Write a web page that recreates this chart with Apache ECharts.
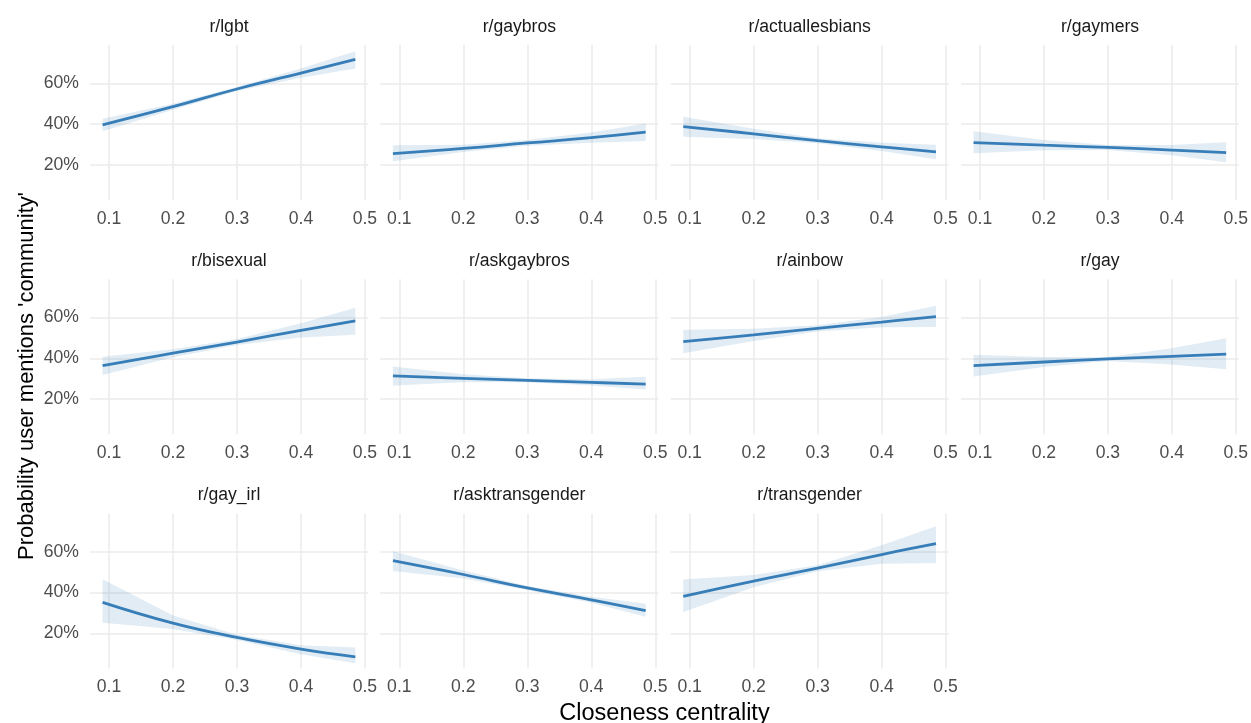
<!DOCTYPE html>
<html>
<head>
<meta charset="utf-8">
<script src="https://cdn.jsdelivr.net/npm/echarts@6/dist/echarts.min.js"></script>
<style>
html,body{margin:0;padding:0;background:#ffffff;}
#chart{width:1251px;height:723px;}
</style>
</head>
<body>
<div id="chart"></div>
<script>
// ---- data (percent) ----
const xValues = [0.09, 0.2, 0.3, 0.4, 0.485];
const xTicks = [0.1, 0.2, 0.3, 0.4, 0.5];
const yTicks = [20, 40, 60];

const lgbtFit = [39.6, 48.5, 57.2, 65.0, 71.7];
const lgbtLo  = [36.5, 47.0, 56.2, 62.7, 67.3];
const lgbtHi  = [42.6, 50.0, 58.2, 67.3, 75.7];

const gaybrosFit = [25.5, 28.0, 30.7, 33.3, 36.0];
const gaybrosLo  = [21.7, 26.3, 29.3, 30.8, 31.7];
const gaybrosHi  = [29.6, 29.8, 32.1, 35.8, 40.3];

const actuallesbiansFit = [38.7, 35.2, 31.8, 28.8, 26.3];
const actuallesbiansLo  = [33.7, 32.7, 30.6, 26.8, 22.7];
const actuallesbiansHi  = [43.6, 37.7, 33.0, 30.8, 29.8];

const gaymersFit = [30.9, 29.6, 28.5, 27.2, 26.0];
const gaymersLo  = [25.7, 27.1, 27.3, 24.7, 21.2];
const gaymersHi  = [36.5, 32.1, 29.7, 29.7, 31.1];

const bisexualFit = [36.4, 42.5, 48.0, 53.7, 58.4];
const bisexualLo  = [31.8, 40.5, 46.5, 50.2, 51.6];
const bisexualHi  = [40.8, 44.5, 49.5, 57.2, 64.8];

const askgaybrosFit = [31.4, 30.2, 29.2, 28.2, 27.3];
const askgaybrosLo  = [26.6, 28.2, 28.2, 26.7, 24.7];
const askgaybrosHi  = [36.0, 32.2, 30.2, 29.7, 30.9];

const ainbowFit = [48.2, 51.5, 54.7, 57.8, 60.5];
const ainbowLo  = [42.5, 48.5, 53.2, 55.3, 55.4];
const ainbowHi  = [54.0, 54.5, 56.2, 60.3, 65.8];

const gayFit = [36.4, 38.2, 39.7, 41.0, 42.1];
const gayLo  = [31.1, 35.7, 38.7, 37.0, 34.6];
const gayHi  = [41.8, 40.7, 40.7, 45.0, 49.9];

const gayIrlFit = [35.2, 25.0, 18.0, 12.3, 8.5];
const gayIrlLo  = [25.2, 22.1, 16.7, 9.8, 5.3];
const gayIrlHi  = [46.6, 28.8, 19.3, 14.2, 13.1];

const asktransgenderFit = [55.7, 48.9, 42.3, 36.5, 31.2];
const asktransgenderLo  = [50.6, 46.9, 41.3, 35.0, 28.1];
const asktransgenderHi  = [60.3, 50.9, 43.3, 38.0, 34.5];

const transgenderFit = [38.2, 45.7, 52.0, 58.7, 64.0];
const transgenderLo  = [30.5, 42.7, 50.5, 54.2, 54.6];
const transgenderHi  = [46.5, 48.7, 53.5, 63.2, 72.6];

const panels = [
  {name: 'r/lgbt', fit: lgbtFit, lo: lgbtLo, hi: lgbtHi},
  {name: 'r/gaybros', fit: gaybrosFit, lo: gaybrosLo, hi: gaybrosHi},
  {name: 'r/actuallesbians', fit: actuallesbiansFit, lo: actuallesbiansLo, hi: actuallesbiansHi},
  {name: 'r/gaymers', fit: gaymersFit, lo: gaymersLo, hi: gaymersHi},
  {name: 'r/bisexual', fit: bisexualFit, lo: bisexualLo, hi: bisexualHi},
  {name: 'r/askgaybros', fit: askgaybrosFit, lo: askgaybrosLo, hi: askgaybrosHi},
  {name: 'r/ainbow', fit: ainbowFit, lo: ainbowLo, hi: ainbowHi},
  {name: 'r/gay', fit: gayFit, lo: gayLo, hi: gayHi},
  {name: 'r/gay_irl', fit: gayIrlFit, lo: gayIrlLo, hi: gayIrlHi},
  {name: 'r/asktransgender', fit: asktransgenderFit, lo: asktransgenderLo, hi: asktransgenderHi},
  {name: 'r/transgender', fit: transgenderFit, lo: transgenderLo, hi: transgenderHi}
];

// ---- layout ----
const FONT = "'Liberation Sans', Arial, Helvetica, sans-serif";
const LEFT0 = 90, COLSTEP = 290.33, PW = 278;
const TOP0 = 45, ROWSTEP = 234.3, PH = 155;
const LINE_COLOR = '#377EB8';
const BAND_COLOR = 'rgba(55,126,184,0.15)';
const GRID_COLOR = '#EBEBEB';

const grids = [], xAxes = [], yAxes = [], series = [], graphics = [];

panels.forEach((p, i) => {
  const col = i % 4, row = Math.floor(i / 4);
  const left = LEFT0 + col * COLSTEP;
  const top = TOP0 + row * ROWSTEP;
  grids.push({left: left, top: top, width: PW, height: PH, containLabel: false});
  xAxes.push({
    type: 'value', gridIndex: i, min: 0.0703, max: 0.5048,
    axisLine: {show: false},
    axisTick: {show: false, customValues: xTicks},
    axisLabel: {customValues: xTicks, color: '#4D4D4D', fontSize: 17.6, fontFamily: FONT, margin: 10,
      formatter: v => v.toFixed(1)},
    splitLine: {show: true, lineStyle: {color: GRID_COLOR, width: 1.5}}
  });
  yAxes.push({
    type: 'value', gridIndex: i, min: 2.7, max: 78.8,
    axisLine: {show: false},
    axisTick: {show: false, customValues: yTicks},
    axisLabel: {show: col === 0, customValues: yTicks, color: '#4D4D4D', fontSize: 17.6, fontFamily: FONT, margin: 11,
      formatter: v => v + '%'},
    splitLine: {show: true, lineStyle: {color: GRID_COLOR, width: 1.5}}
  });
  // confidence ribbon: polygon built from upper and lower bounds through the axis scales
  series.push({
    type: 'custom', xAxisIndex: i, yAxisIndex: i, silent: true, z: 2,
    data: xValues.map((x, k) => [x, p.lo[k], p.hi[k]]),
    encode: {x: 0, y: [1, 2]},
    renderItem: (params, api) => {
      if (params.dataIndex !== 0) return null;
      const upper = xValues.map((x, k) => api.coord([x, p.hi[k]]));
      const lower = xValues.map((x, k) => api.coord([x, p.lo[k]])).reverse();
      return {
        type: 'polygon',
        shape: {points: upper.concat(lower)},
        style: {fill: BAND_COLOR, stroke: null}
      };
    }
  });
  series.push({
    type: 'line', xAxisIndex: i, yAxisIndex: i, silent: true, z: 3,
    data: xValues.map((x, k) => [x, p.fit[k]]), symbol: 'none', smooth: 0.45,
    lineStyle: {color: LINE_COLOR, width: 2.8}
  });
  graphics.push({
    type: 'text', x: left + PW / 2, y: top - 18,
    style: {text: p.name, fill: '#1A1A1A', font: '17.6px ' + FONT, align: 'center', verticalAlign: 'middle'}
  });
});

graphics.push({
  type: 'text', x: 664.5, y: 714,
  style: {text: 'Closeness centrality', fill: '#000000', font: '23.5px ' + FONT, align: 'center', verticalAlign: 'middle'}
});
graphics.push({
  type: 'text', x: 27, y: 376, rotation: Math.PI / 2,
  style: {text: "Probability user mentions 'community'", fill: '#000000', font: '22px ' + FONT, align: 'center', verticalAlign: 'middle'}
});

const chart = echarts.init(document.getElementById('chart'), null, {renderer: 'canvas'});
chart.setOption({
  animation: false,
  backgroundColor: '#ffffff',
  textStyle: {fontFamily: FONT},
  grid: grids,
  xAxis: xAxes,
  yAxis: yAxes,
  series: series,
  graphic: graphics
});
</script>
</body>
</html>
